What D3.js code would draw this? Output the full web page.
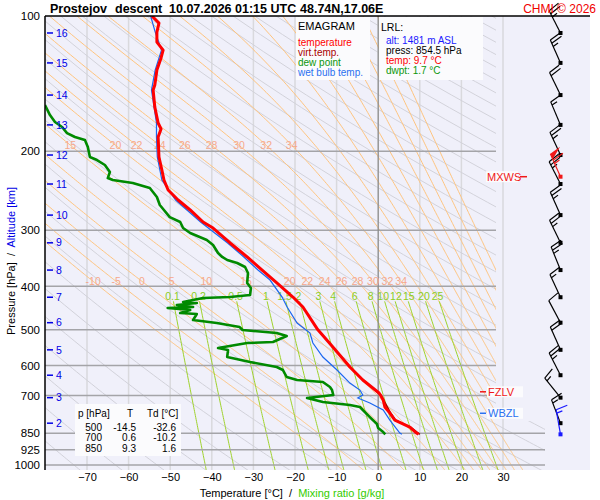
<!DOCTYPE html>
<html><head><meta charset="utf-8">
<script src="https://cdn.jsdelivr.net/npm/d3@7"></script>
<style>
body{margin:0;background:#fff;}
svg{font-family:"Liberation Sans",Arial,sans-serif;}
</style></head><body>
<svg id="chart" width="600" height="500"></svg>
<script>
// --- sounding (p in hPa, T in degC) ---
var tempP = [100,103.7,108.6,114.3,119.1,124.0,131.9,142.4,146.2,159.5,173.1,178.5,186.0,206.1,220.3,231.9,244.1,256.9,270.4,287.6,296.6,320.3,344.1,367.9,393.3,422.6,444.8,500,546.1,605.1,646.8,691.4,700,716.6,742.8,766.0,794.2,823.1,850,854.5];
var tempT = [-54.4,-52.7,-53.2,-53.2,-51.7,-52.2,-53.2,-53.7,-54.1,-53.7,-52.9,-52.2,-52.9,-52.7,-52.0,-51.5,-50.5,-48.1,-45.2,-42.1,-39.7,-35.6,-31.5,-27.9,-24.3,-20.5,-18.1,-14.5,-10.9,-6.8,-3.7,0.2,0.6,1.2,1.6,2.8,4.0,7.6,9.3,9.7];

var virtP = [500,546.1,605.1,646.8,700,766.0,794.2,823.1,854.5];
var virtT = [-14.5,-10.9,-6.8,-3.6,0.7,3.0,4.2,7.8,10.0];

var dewP = [157.9,166.2,172.2,176.7,182.3,186.0,188.9,195.8,206.1,209.3,214.7,222.6,229.6,231.9,235.5,241.6,253.0,263.6,280.4,287.6,296.6,304.3,315.4,323.6,337.2,344.1,349.5,354.9,362.3,373.6,393.3,403.5,418.3,422.6,424.8,433.5,435.8,440.3,444.8,447.1,451.7,458.7,461.1,475.5,482.9,492.9,500.5,508.2,516.1,532.3,535.0,548.9,554.6,574.7,589.7,605.1,614.4,636.8,646.8,653.5,670.5,680.9,698.4,709.3,724.0,735.3,742.8,782.1,810.5,827.4,844.5,854.5];
var dewT = [-80.1,-78.9,-77.7,-76.0,-74.8,-72.9,-70.5,-69.8,-69.3,-67.6,-65.7,-64.5,-65.0,-63.8,-59.0,-54.9,-53.2,-52.5,-50.1,-47.6,-46.9,-45.2,-41.2,-39.7,-38.5,-37.5,-36.3,-33.9,-32.0,-31.3,-31.5,-30.6,-30.8,-35.6,-42.1,-46.9,-43.6,-48.4,-44.5,-50.6,-45.2,-47.6,-43.6,-44.5,-38.8,-33.3,-32.6,-24.4,-22.0,-25.3,-31.5,-38.5,-36.1,-36.3,-30.8,-24.4,-22.9,-22.0,-19.5,-13.3,-11.6,-11.1,-10.8,-17.1,-13.3,-6.8,-4.4,-2.0,-0.3,0.0,1.2,1.7];

var wetP = [100,108.6,119.1,131.9,146.2,173.1,186.0,206.1,231.9,256.9,287.6,320.3,344.1,367.9,387.3,422.6,444.8,482.9,508.2,535.0,574.7,614.4,656.9,680.9,698.4,709.3,727.7,754.2,794.2,848.9,854.5];
var wetT = [-54.7,-53.6,-52.1,-53.6,-54.5,-53.3,-53.3,-53.1,-52.0,-48.7,-42.7,-36.2,-32.3,-28.9,-26.0,-23.1,-21.9,-19.5,-16.4,-15.7,-13.3,-9.9,-6.8,-4.4,-3.7,-4.9,-2.0,1.2,2.8,5.2,5.7];

// winds at each km of altitude (dir deg, speed kt)
var altKm  = [2,3,4,5,6,7,8,9,10,11,12,13,14,15,16];
var altP   = [807,708,631,554,482,423,368,320,277.6,236.7,204,174.8,150,127.2,109.1];
var windDir = [339,321,333,336,332,335,338,334,336,333,335,337,334,336,333];
var windSpd = [15,15,25,20,10,15,25,25,25,25,25,15,20,25,25];

// special levels
var lrl = {p: 854.5, dir: 350, spd: 15};
var mxws = {p: 228, dir: 336, spd: 65};
var fzlvP = 687, wbzlP = 767;

// chart grid values
var pressureTicks = [100,200,300,400,500,600,700,850,925,1000];
var tempTicks = [-70,-60,-50,-40,-30,-20,-10,0,10,20,30];
var thetaDry = d3.range(200, 610, 10);
var thetaW = [-10,-5,0,5,10,15,20,22,24,26,28,30,32,34];
var thetaWUpper = [36,38,40,42,44,46,48,50,52];
var thetaWRow2 = [15,20,22,24,26,28,30,32,34];
var mixRatios = [0.1,0.2,0.5,1,1.5,2,3,4,6,8,10,12,15,20,25];

var tableRows = [["500","-14.5","-32.6"],["700","0.6","-10.2"],["850","9.3","1.6"]];

var svg = d3.select("#chart");
var x = d3.scaleLinear().domain([-70, 30]).range([87, 503]);
var y = d3.scaleLog().domain([100, 1000]).range([16, 465]);
var line = d3.line().x(function(d){return x(d[0]);}).y(function(d){return y(d[1]);});
function zip(a, b){ return a.map(function(v,i){return [b[i], v];}); }

var defs = svg.append("defs");
defs.append("clipPath").attr("id","plot").append("rect").attr("x",45).attr("y",16).attr("width",545).attr("height",454);
defs.append("clipPath").attr("id","adia").append("path").attr("d","M45,16H496V421H545V470H45Z");
defs.append("clipPath").attr("id","upper").append("rect").attr("x",45).attr("y",16).attr("width",451).attr("height",405);

svg.append("rect").attr("x",45).attr("y",16).attr("width",545).attr("height",454).attr("fill","#f0f0fa");

// isotherms
svg.append("g").selectAll("line").data(tempTicks).join("line")
  .attr("x1",d=>x(d)).attr("x2",d=>x(d)).attr("y1",16).attr("y2",470)
  .attr("stroke","#d9d9dd").attr("stroke-width",1.5);

// dry adiabats
var gDry = svg.append("g").attr("clip-path","url(#adia)");
thetaDry.forEach(function(th){
  var pts = d3.range(100, 1045, 10).map(function(p){ return [th*Math.pow(p/1000,0.2857)-273.15, p]; });
  gDry.append("path").attr("d",line(pts)).attr("fill","none").attr("stroke","#d2d2da").attr("stroke-width",1);
});

// moist adiabats
function es(T){ var c=T-273.15; return 6.112*Math.exp(17.67*c/(c+243.5)); }
function dTdp(T,p){ var e=es(T), r=0.622*e/(p-e);
  return (287.04*T + 2.501e6*r)/(p*(1005.7 + 2.501e6*2.501e6*r*0.622/(287.04*T*T))); }
function moist(tw){
  var up=[], T=tw+273.15, p=1000, h=-2;
  up.push([T-273.15,p]);
  while(p>100){ var k1=dTdp(T,p), k2=dTdp(T+h*k1,p+h); T+=h*(k1+k2)/2; p+=h; up.push([T-273.15,p]); }
  var dn=[]; T=tw+273.15; p=1000;
  while(p<1040){ var a1=dTdp(T,p), a2=dTdp(T+2*a1,p+2); T+=(a1+a2); p+=2; dn.push([T-273.15,p]); }
  return dn.reverse().concat(up);
}
function atP(pts, p){ var best=pts[0]; pts.forEach(function(d){ if(Math.abs(d[1]-p)<Math.abs(best[1]-p)) best=d; }); return best; }
var gMoist = svg.append("g").attr("clip-path","url(#adia)");
var moistLines = {};
thetaW.forEach(function(tw){
  var pts = moist(tw); moistLines[tw]=pts;
  gMoist.append("path").attr("d",line(pts)).attr("fill","none").attr("stroke","#ffc47e").attr("stroke-width",1);
});
var gMoistU = svg.append("g").attr("clip-path","url(#upper)");
thetaWUpper.forEach(function(tw){
  gMoistU.append("path").attr("d",line(moist(tw))).attr("fill","none").attr("stroke","#ffc47e").attr("stroke-width",1);
});

// mixing ratio lines
function tdFromW(w,p){ var e=w*p/(622+w), l=Math.log(e/6.112); return 243.5*l/(17.67-l); }
var gMix = svg.append("g").attr("clip-path","url(#adia)");
mixRatios.forEach(function(w){
  var pts = d3.range(432, 1045, 8).map(function(p){ return [tdFromW(w,p), p]; });
  gMix.append("path").attr("d",line(pts)).attr("fill","none").attr("stroke","#9fd22c").attr("stroke-width",1);
});

// pressure lines
svg.append("g").selectAll("line").data(pressureTicks.slice(1)).join("line")
  .attr("x1",45).attr("x2",d=>d>=800?545:496).attr("y1",d=>y(d)).attr("y2",d=>y(d))
  .attr("stroke","#a4a4a8").attr("stroke-width",1.5);
// 0 degC isotherm
svg.append("line").attr("x1",x(0)).attr("x2",x(0)).attr("y1",16).attr("y2",470).attr("stroke","#8a8a8a").attr("stroke-width",1.2);

// moist adiabat labels
var lab = svg.append("g").attr("font-size",10.5).attr("fill","#f6a88c").attr("text-anchor","middle").attr("dominant-baseline","central");
thetaW.forEach(function(tw){
  var d=atP(moistLines[tw],389);
  lab.append("text").attr("x",x(d[0])).attr("y",y(389)).text(tw);
});
thetaWRow2.forEach(function(tw){
  var d=atP(moistLines[tw],194);
  lab.append("text").attr("x",x(d[0])).attr("y",y(194)).text(tw);
});
// mixing ratio labels
var mlab = svg.append("g").attr("font-size",10.5).attr("fill","#8ccd22").attr("text-anchor","middle").attr("dominant-baseline","central");
var lastX = -99;
mixRatios.forEach(function(w){
  var s = String(w), xx = Math.max(x(tdFromW(w,421)), lastX + s.length*3.2 + 6);
  lastX = xx + s.length*3.2 - 6;
  mlab.append("text").attr("x",xx).attr("y",y(421)).text(s);
});

// profiles
var gProf = svg.append("g").attr("clip-path","url(#plot)");
gProf.append("path").attr("d",line(zip(dewP,dewT))).attr("fill","none").attr("stroke","#008a00").attr("stroke-width",2.6).attr("stroke-linejoin","round");
gProf.append("path").attr("d",line(zip(wetP,wetT))).attr("fill","none").attr("stroke","#1a66f0").attr("stroke-width",1.2);
gProf.append("path").attr("d",line(zip(virtP,virtT))).attr("fill","none").attr("stroke","#a00000").attr("stroke-width",1.5);
gProf.append("path").attr("d",line(zip(tempP,tempT))).attr("fill","none").attr("stroke","#ff0000").attr("stroke-width",3).attr("stroke-linejoin","round");

// axes lines
svg.append("line").attr("x1",45).attr("x2",590).attr("y1",16).attr("y2",16).attr("stroke","#000").attr("stroke-width",1.5);
svg.append("line").attr("x1",45).attr("x2",45).attr("y1",16).attr("y2",470).attr("stroke","#000").attr("stroke-width",1.5);

var ax = svg.append("g").attr("transform","translate(0,470)")
  .call(d3.axisBottom(x).tickValues(tempTicks).tickSize(0).tickPadding(3));
ax.select(".domain").remove();
ax.selectAll("text").attr("font-size",11).attr("font-family","Liberation Sans, Arial").attr("fill","#000");
var ay = svg.append("g").attr("transform","translate(45,0)")
  .call(d3.axisLeft(y).tickValues(pressureTicks).tickFormat(d3.format("d")).tickSize(0).tickPadding(5));
ay.select(".domain").remove();
ay.selectAll("text").attr("font-size",11.5).attr("font-family","Liberation Sans, Arial").attr("fill","#000");

// altitude ticks
var alt = svg.append("g").selectAll("g").data(altKm).join("g")
  .attr("transform",(d,i)=>"translate(0,"+y(altP[i])+")");
alt.append("line").attr("x1",47).attr("x2",53).attr("stroke","#0000e6").attr("stroke-width",1.5);
alt.append("text").attr("x",56).attr("dy","0.35em").attr("font-size",10.5).attr("fill","#0000e6").text(d=>d);

// titles
var t = svg.append("g").attr("font-size",12.5).attr("font-weight","bold").attr("fill","#000");
t.append("text").attr("x",50).attr("y",12.5).text("Prostejov");
t.append("text").attr("x",115).attr("y",12.5).text("descent");
t.append("text").attr("x",169).attr("y",12.5).text("10.07.2026 01:15 UTC");
t.append("text").attr("x",300).attr("y",12.5).text("48.74N,17.06E");

var yt = svg.append("text").attr("transform","translate(15,261) rotate(-90)").attr("text-anchor","middle").attr("font-size",11).style("white-space","pre");
yt.append("tspan").attr("fill","#000").text("Pressure [hPa]  /  ");
yt.append("tspan").attr("fill","#0000e6").text("Altitude [km]");
var xt = svg.append("text").attr("x",292).attr("y",497).attr("text-anchor","middle").attr("font-size",11).style("white-space","pre");
xt.append("tspan").attr("fill","#000").text("Temperature [\u00b0C]  /  ");
xt.append("tspan").attr("fill","#33cc00").text("Mixing ratio [g/kg]");

// legend boxes
svg.append("rect").attr("x",296).attr("y",17).attr("width",74).attr("height",63).attr("fill","#fbfbfd");
svg.append("rect").attr("x",379).attr("y",17).attr("width",104).attr("height",63).attr("fill","#fbfbfd");
var lg = svg.append("g").attr("font-size",10);
lg.append("text").attr("x",298).attr("y",30).attr("font-size",11).text("EMAGRAM");
[["temperature","#ff0000"],["virt.temp.","#a80000"],["dew point","#0a960a"],["wet bulb temp.","#2a70f0"]].forEach(function(d,i){
  lg.append("text").attr("x",298).attr("y",46+i*10).attr("fill",d[1]).text(d[0]);
});
lg.append("text").attr("x",381).attr("y",31).attr("font-size",10.5).text("LRL:");
[["alt: 1481 m ASL","#1a1aff"],["press: 854.5 hPa","#000"],["temp: 9.7 \u00b0C","#ff0000"],["dwpt: 1.7 \u00b0C","#0a960a"]].forEach(function(d,i){
  lg.append("text").attr("x",386).attr("y",44+i*10).attr("fill",d[1]).text(d[0]);
});

// table
svg.append("rect").attr("x",75).attr("y",404).attr("width",106).attr("height",52).attr("fill","#fbfbfd");
var tb = svg.append("g").attr("font-size",10).attr("fill","#000");
tb.append("text").attr("x",78).attr("y",417).text("p [hPa]");
tb.append("text").attr("x",127).attr("y",417).text("T");
tb.append("text").attr("x",147).attr("y",417).text("Td [\u00b0C]");
tableRows.forEach(function(r,i){
  tb.append("text").attr("x",102).attr("y",430.5+i*10.8).attr("text-anchor","end").text(r[0]);
  tb.append("text").attr("x",136).attr("y",430.5+i*10.8).attr("text-anchor","end").text(r[1]);
  tb.append("text").attr("x",176).attr("y",430.5+i*10.8).attr("text-anchor","end").text(r[2]);
});

// level markers
function levelMark(p, name, col, x1, x2){
  svg.append("rect").attr("x",x2+1).attr("y",y(p)-5.5).attr("width",36).attr("height",11).attr("fill","#fbfbfd");
  svg.append("line").attr("x1",x1).attr("x2",x2).attr("y1",y(p)).attr("y2",y(p)).attr("stroke",col).attr("stroke-width",1.5);
  svg.append("text").attr("x",x2+2).attr("y",y(p)).attr("dy","0.36em").attr("font-size",11).attr("fill",col).text(name);
}
levelMark(fzlvP,"FZLV","#f01818",480,486);
levelMark(wbzlP,"WBZL","#2a70f0",480,486);
svg.append("rect").attr("x",486).attr("y",y(mxws.p)-5.5).attr("width",32).attr("height",11).attr("fill","#fbfbfd");
svg.append("text").attr("x",487).attr("y",y(mxws.p)).attr("dy","0.36em").attr("font-size",11).attr("fill","#f01818").text("MXWS");
svg.append("line").attr("x1",520).attr("x2",527).attr("y1",y(mxws.p)).attr("y2",y(mxws.p)).attr("stroke","#f01818").attr("stroke-width",1.5);

// wind barbs
var gw = svg.append("g");
function barb(p, dir, spd, col){
  var x0=560.5, y0=y(p), a=dir*Math.PI/180, ux=Math.sin(a), uy=-Math.cos(a), L=25;
  var tx=x0+L*ux, ty=y0+L*uy;
  var fa=Math.atan2(uy,ux)+78*Math.PI/180, fx=Math.cos(fa), fy=Math.sin(fa);
  gw.append("line").attr("x1",x0).attr("y1",y0).attr("x2",tx).attr("y2",ty).attr("stroke",col).attr("stroke-width",1.2);
  var s=Math.round(spd/5)*5, pos=0;
  while(s>=50){
    var bx=tx-pos*ux, by=ty-pos*uy;
    gw.append("path").attr("d","M"+bx+","+by+"L"+(bx+12*fx)+","+(by+12*fy)+"L"+(bx-6*ux)+","+(by-6*uy)+"Z").attr("fill",col);
    pos+=7; s-=50;
  }
  while(s>=10){
    var cx=tx-pos*ux, cy=ty-pos*uy;
    gw.append("line").attr("x1",cx).attr("y1",cy).attr("x2",cx+12*fx).attr("y2",cy+12*fy).attr("stroke",col).attr("stroke-width",1.2);
    pos+=3.5; s-=10;
  }
  if(s>=5){
    if(pos===0) pos=3.5;
    var hx=tx-pos*ux, hy=ty-pos*uy;
    gw.append("line").attr("x1",hx).attr("y1",hy).attr("x2",hx+6*fx).attr("y2",hy+6*fy).attr("stroke",col).attr("stroke-width",1.2);
  }
  gw.append("rect").attr("x",x0-2).attr("y",y0-2).attr("width",4).attr("height",4).attr("fill",col);
}
altP.forEach(function(p,i){ barb(p, windDir[i], windSpd[i], "#000"); });
barb(mxws.p, mxws.dir, mxws.spd, "#f01818");
barb(lrl.p, lrl.dir, lrl.spd, "#1a1aff");

svg.append("text").attr("x",596).attr("y",12.5).attr("text-anchor","end").attr("font-size",12).attr("fill","#f00000").text("CHMI \u00a9 2026");
</script>
</body></html>
